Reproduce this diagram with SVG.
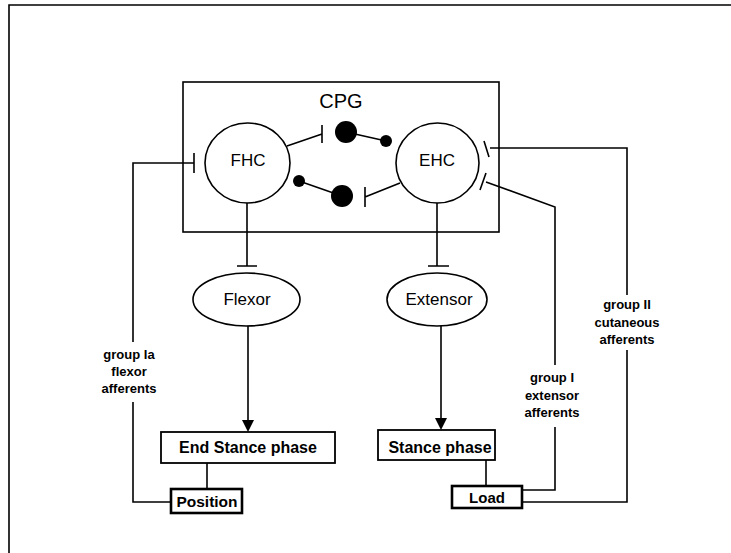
<svg xmlns="http://www.w3.org/2000/svg" width="731" height="553" viewBox="0 0 731 553">
<style>
.ln{fill:none;stroke:#000;stroke-width:1.6}
.bx{fill:#fff;stroke:#000;stroke-width:1.8}
.bx2{fill:#fff;stroke:#000;stroke-width:2.6}
.dot{fill:#000}
text{font-family:"Liberation Sans",Arial,sans-serif;fill:#000;text-anchor:middle}
.b{font-weight:bold}
.lab{font-weight:bold;font-size:13px}
</style>
<rect width="731" height="553" fill="#fff"/>
<g id="frame"><path class="ln" d="M9,553 V5 H731"/></g>
<g id="cpg">
<rect class="ln" x="183" y="82" width="316" height="150"/>
<text x="341" y="108" font-size="20">CPG</text>
</g>
<g id="fhc"><ellipse class="ln" cx="247.5" cy="163" rx="42.5" ry="40"/><text x="248" y="166" font-size="17">FHC</text></g>
<g id="ehc"><ellipse class="ln" cx="437.5" cy="163" rx="41.5" ry="40"/><text x="437" y="166" font-size="17">EHC</text></g>
<g id="flexor"><ellipse class="ln" cx="246.5" cy="299.5" rx="53.5" ry="26.5"/><text x="247" y="305" font-size="17">Flexor</text></g>
<g id="extensor"><ellipse class="ln" cx="437" cy="299.5" rx="50" ry="26.5"/><text x="439" y="305" font-size="17">Extensor</text></g>
<g id="endstance"><rect class="bx" x="161" y="432" width="174" height="31"/><text class="b" x="248" y="453" font-size="16">End Stance phase</text></g>
<g id="stance"><rect class="bx" x="378" y="430" width="117" height="30"/><text class="b" x="440" y="453" font-size="16">Stance phase</text></g>
<g id="position"><rect class="bx2" x="171" y="489" width="71" height="24"/><text class="b" x="207" y="507" font-size="15.5">Position</text></g>
<g id="load"><rect class="bx2" x="452" y="486" width="70" height="22"/><text class="b" x="487" y="503" font-size="15">Load</text></g>
<g id="interneurons">
<circle class="dot" cx="346" cy="132" r="11"/>
<circle class="dot" cx="386" cy="141" r="6"/>
<circle class="dot" cx="299" cy="181" r="6"/>
<circle class="dot" cx="342" cy="196" r="11"/>
</g>
<g id="connectors">
<path class="ln" d="M287,146 L322,134 M322,125 V143"/>
<path class="ln" d="M346,132 L386,141"/>
<path class="ln" d="M299,181 L342,196"/>
<path class="ln" d="M400,183 L365,197 M365,187 V207"/>
<path class="ln" d="M247,203 V266 M237,266 H257"/>
<path class="ln" d="M437,203 V266 M428,266 H449"/>
<path class="ln" d="M248,326 V421"/>
<polygon class="dot" points="242,420 254,420 248,432"/>
<path class="ln" d="M441,326 V419"/>
<polygon class="dot" points="435,418 447,418 441,430"/>
<path class="ln" d="M207,463 V489"/>
<path class="ln" d="M486,460 V486"/>
<path class="ln" d="M171,502 H133 V402 M133,342 V163 H194 M194,153 V173"/>
<path class="ln" d="M522,502 H627 V350 M627,295 V148 H490 M484,141 L489,157"/>
<path class="ln" d="M522,490 H555 V427 M555,365 V207 L486,182 M486,173 L480,190"/>
</g>
<g id="labels">
<text class="lab" x="129" y="359">group Ia</text>
<text class="lab" x="129" y="376">flexor</text>
<text class="lab" x="129" y="393">afferents</text>
<text class="lab" x="552" y="382">group I</text>
<text class="lab" x="552" y="400">extensor</text>
<text class="lab" x="552" y="417">afferents</text>
<text class="lab" x="627" y="309">group II</text>
<text class="lab" x="627" y="327">cutaneous</text>
<text class="lab" x="627" y="344">afferents</text>
</g>
</svg>
